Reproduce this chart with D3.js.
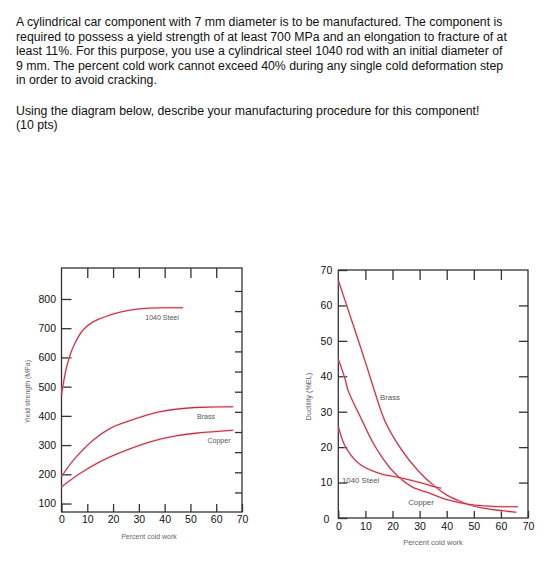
<!DOCTYPE html>
<html>
<head>
<meta charset="utf-8">
<script src="https://cdn.jsdelivr.net/npm/d3@7"></script>
<style>
  body { margin: 0; background: #fff; }
  svg { display: block; font-family: "Liberation Sans", Helvetica, Arial, sans-serif; }
</style>
</head>
<body>
<div id="chart"></div>
<script>
"use strict"

// question text
const paragraph = [
  "A cylindrical car component with 7 mm diameter is to be manufactured. The component is",
  "required to possess a yield strength of at least 700 MPa and an elongation to fracture of at",
  "least 11%. For this purpose, you use a cylindrical steel 1040 rod with an initial diameter of",
  "9 mm. The percent cold work cannot exceed 40% during any single cold deformation step",
  "in order to avoid cracking."
];
const question = [
  "Using the diagram below, describe your manufacturing procedure for this component!",
  "(10 pts)"
];

// ticks
const cwTicks = [0, 10, 20, 30, 40, 50, 60, 70];
const cwInner = [10, 20, 30, 40, 50, 60];
const ysTicks = [100, 200, 300, 400, 500, 600, 700, 800];
const ksiTicks = [20, 30, 40, 50, 60, 70, 80, 90, 100, 110, 120];
const elTicks = [0, 10, 20, 30, 40, 50, 60, 70];
const elInner = [10, 20, 30, 40, 50, 60];

// yield strength (MPa) vs percent cold work
const ysSteel = [[0, 471], [2, 568], [4.6, 637], [8.4, 694], [12.3, 722], [18.8, 745], [25.3, 760], [33, 768], [40, 770], [47.2, 770]];
const ysBrass = [[0, 192], [4.6, 248], [12.3, 317], [18.8, 357], [25.3, 380], [31.7, 399], [38.1, 414], [44.6, 423], [53.6, 429], [66.6, 431]];
const ysCopper = [[0, 157], [7.2, 203], [14.9, 243], [25.3, 283], [35.6, 314], [44.6, 332], [53.6, 342], [66.6, 351]];

// ductility (%EL) vs percent cold work
const elBrass = [[0, 67.1], [3.7, 58.6], [7.4, 50.1], [11, 41.6], [13.5, 35.5], [17.2, 27.4], [23.3, 19.3], [29.4, 13.4], [35.6, 8.9], [40, 6.5], [45, 4.7], [48.5, 3.7], [55, 2.6], [60, 2.1], [65.7, 1.6]];
const elCopper = [[0, 44.9], [2.5, 39.2], [3.7, 35.8], [8.6, 27.8], [13.5, 20.3], [19.7, 13.6], [27, 8.9], [33.7, 7.0], [40, 5.2], [48.5, 3.8], [55, 3.4], [60, 3.2], [66.3, 3.2]];
const elSteel = [[0, 25.9], [2.5, 20.3], [7.4, 15.5], [14.7, 12.7], [23.3, 11.3], [30.7, 9.9], [35.6, 8.8], [38, 8.4]];

const width = 560, height = 570;
const lineColor = "#c2283d";
const axisColor = "#333";

const svg = d3.select("#chart").append("svg")
  .attr("width", width)
  .attr("height", height);

svg.append("rect").attr("width", width).attr("height", height).attr("fill", "#fff");

// text block
const txt = svg.append("g").attr("font-size", 12.3).attr("fill", "#111");
paragraph.forEach((t, i) => {
  txt.append("text").attr("x", 16).attr("y", 26.3 + i * 14.4).text(t);
});
question.forEach((t, i) => {
  txt.append("text").attr("x", 16).attr("y", 114.7 + i * 14.4).text(t);
});

function drawCurve(g, data, x, y) {
  const line = d3.line().x(d => x(d[0])).y(d => y(d[1])).curve(d3.curveCatmullRom.alpha(0.5));
  g.append("path").datum(data)
    .attr("fill", "none").attr("stroke", "#eab4bc").attr("stroke-width", 2.4).attr("opacity", 0.5)
    .attr("d", line);
  g.append("path").datum(data)
    .attr("fill", "none").attr("stroke", lineColor).attr("stroke-width", 1.05)
    .attr("d", line);
}

function styleAxis(g) {
  g.select(".domain").remove();
  g.selectAll("line").attr("stroke", axisColor).attr("stroke-width", 1.3);
  g.selectAll("text").attr("font-size", 10.5).attr("fill", "#111")
    .attr("font-family", "'Liberation Sans', Helvetica, Arial, sans-serif");
}

/* ---------- left: yield strength ---------- */
const x1 = d3.scaleLinear().domain([0, 70]).range([61.5, 242]);
const y1 = d3.scaleLinear().domain([71, 906]).range([512, 268]);
const yKsi = d3.scaleLinear().domain([71 / 6.895, 906 / 6.895]).range([512, 268]);

const g1 = svg.append("g");

g1.append("g").attr("transform", `translate(${x1(0)},0)`)
  .call(d3.axisLeft(y1).tickValues(ysTicks).tickSize(-10).tickPadding(5.5))
  .call(styleAxis);
g1.append("g").attr("transform", `translate(0,${y1.range()[0]})`)
  .call(d3.axisBottom(x1).tickValues(cwTicks).tickSize(-8).tickPadding(3.6))
  .call(styleAxis);
g1.append("g").attr("transform", `translate(0,${y1.range()[1]})`)
  .call(d3.axisTop(x1).tickValues(cwInner).tickSize(-10).tickFormat(""))
  .call(styleAxis);
g1.append("g").attr("transform", `translate(${x1(70)},0)`)
  .call(d3.axisRight(yKsi).tickValues(ksiTicks).tickSize(-7).tickFormat(""))
  .call(styleAxis);

g1.append("rect")
  .attr("x", x1(0)).attr("y", y1.range()[1])
  .attr("width", x1(70) - x1(0)).attr("height", y1.range()[0] - y1.range()[1])
  .attr("fill", "none").attr("stroke", axisColor).attr("stroke-width", 1.3);

drawCurve(g1, ysSteel, x1, y1);
drawCurve(g1, ysBrass, x1, y1);
drawCurve(g1, ysCopper, x1, y1);

const lab1 = g1.append("g").attr("fill", "#555").attr("font-size", 7).attr("text-anchor", "middle");
lab1.append("text").attr("x", 162).attr("y", 319.8).text("1040 Steel");
lab1.append("text").attr("x", 206).attr("y", 418.6).text("Brass");
lab1.append("text").attr("x", 219).attr("y", 442.6).text("Copper");

g1.append("text").attr("x", 149).attr("y", 538.5).attr("text-anchor", "middle")
  .attr("font-size", 7).attr("fill", "#666").text("Percent cold work");
g1.append("text").attr("transform", "translate(29.8,391.7) rotate(-90)").attr("text-anchor", "middle")
  .attr("font-size", 7).attr("fill", "#666").text("Yield strength (MPa)");

/* ---------- right: ductility ---------- */
const x2 = d3.scaleLinear().domain([0, 70]).range([338.3, 528]);
const y2 = d3.scaleLinear().domain([0, 70]).range([518, 270]);

const g2 = svg.append("g");

g2.append("g").attr("transform", `translate(${x2(0)},0)`)
  .call(d3.axisLeft(y2).tickValues(elTicks).tickSize(-9).tickPadding(6))
  .call(styleAxis)
  .call(g => g.selectAll(".tick").filter(d => d === 0).select("text")
    .attr("transform", "translate(-3,1.5)"));
g2.append("g").attr("transform", `translate(0,${y2.range()[0]})`)
  .call(d3.axisBottom(x2).tickValues(cwTicks).tickSize(-7).tickPadding(4.8))
  .call(styleAxis);
g2.append("g").attr("transform", `translate(0,${y2.range()[1]})`)
  .call(d3.axisTop(x2).tickValues(cwInner).tickSize(-10).tickFormat(""))
  .call(styleAxis);
g2.append("g").attr("transform", `translate(${x2(70)},0)`)
  .call(d3.axisRight(y2).tickValues(elInner).tickSize(-9).tickFormat(""))
  .call(styleAxis);

g2.append("rect")
  .attr("x", x2(0)).attr("y", y2.range()[1])
  .attr("width", x2(70) - x2(0)).attr("height", y2.range()[0] - y2.range()[1])
  .attr("fill", "none").attr("stroke", axisColor).attr("stroke-width", 1.3);

drawCurve(g2, elBrass, x2, y2);
drawCurve(g2, elCopper, x2, y2);
drawCurve(g2, elSteel, x2, y2);

const lab2 = g2.append("g").attr("fill", "#555").attr("font-size", 7.8);
lab2.append("text").attr("x", 342).attr("y", 482.8).text("1040 Steel");
lab2.append("text").attr("x", 390).attr("y", 399.8).attr("text-anchor", "middle").text("Brass");
lab2.append("text").attr("x", 421).attr("y", 504.5).attr("text-anchor", "middle").text("Copper");

g2.append("text").attr("x", 433).attr("y", 545.2).attr("text-anchor", "middle")
  .attr("font-size", 7.5).attr("fill", "#666").text("Percent cold work");
g2.append("text").attr("transform", "translate(310.8,396.7) rotate(-90)").attr("text-anchor", "middle")
  .attr("font-size", 7.3).attr("fill", "#666").text("Ductility (%EL)");
</script>
</body>
</html>
